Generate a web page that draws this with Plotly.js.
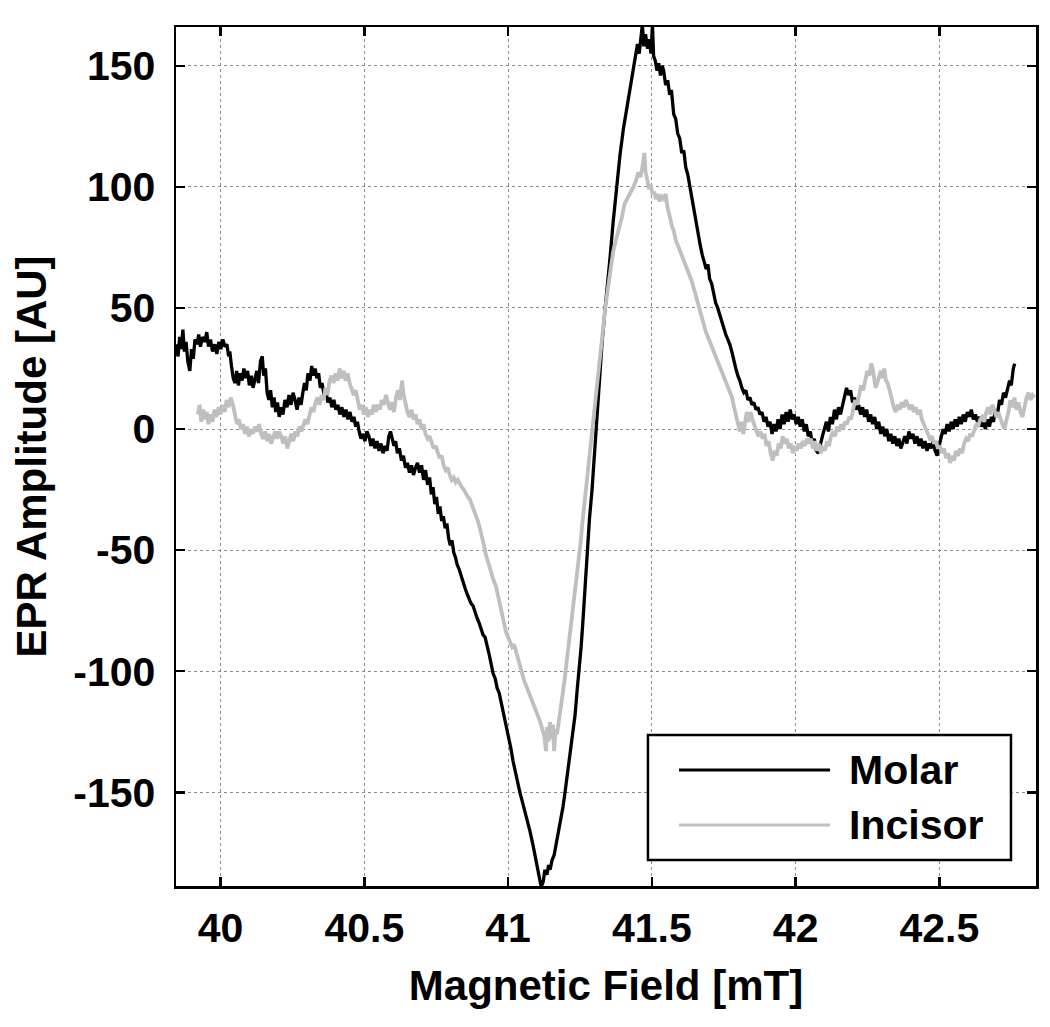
<!DOCTYPE html>
<html>
<head>
<meta charset="utf-8">
<script src="https://cdn.plot.ly/plotly-3.0.1.min.js"></script>
<style>html,body{margin:0;padding:0;background:#fff;}#chart{width:1050px;height:1027px;}</style>
</head>
<body>
<div id="chart"></div>
<script>
// ---- Data ----
const molarField = [39.845,39.852,39.858,39.863,39.869,39.874,39.880,39.886,39.893,39.899,39.905,39.911,39.918,39.924,39.930,39.937,39.945,39.952,39.958,39.965,39.972,39.980,39.987,39.994,40.001,40.008,40.015,40.022,40.028,40.032,40.038,40.044,40.050,40.056,40.062,40.068,40.075,40.081,40.088,40.094,40.100,40.107,40.113,40.119,40.126,40.132,40.139,40.145,40.150,40.156,40.162,40.168,40.174,40.180,40.186,40.192,40.198,40.204,40.210,40.217,40.224,40.231,40.238,40.245,40.252,40.259,40.266,40.273,40.280,40.286,40.292,40.298,40.304,40.311,40.317,40.323,40.329,40.335,40.341,40.347,40.353,40.360,40.366,40.373,40.380,40.387,40.394,40.401,40.408,40.415,40.422,40.429,40.436,40.443,40.450,40.457,40.464,40.470,40.476,40.482,40.488,40.495,40.502,40.509,40.516,40.523,40.530,40.537,40.544,40.551,40.558,40.565,40.572,40.579,40.585,40.591,40.597,40.603,40.609,40.615,40.622,40.629,40.636,40.643,40.650,40.657,40.664,40.671,40.678,40.685,40.692,40.699,40.706,40.713,40.720,40.727,40.733,40.739,40.745,40.751,40.757,40.763,40.769,40.775,40.781,40.787,40.793,40.799,40.805,40.811,40.817,40.823,40.830,40.837,40.844,40.851,40.857,40.864,40.871,40.878,40.885,40.892,40.899,40.906,40.913,40.920,40.927,40.934,40.941,40.948,40.955,40.962,40.969,40.976,40.983,40.990,40.996,41.003,41.010,41.017,41.024,41.031,41.041,41.052,41.066,41.076,41.087,41.098,41.108,41.115,41.122,41.128,41.135,41.141,41.146,41.153,41.160,41.166,41.172,41.180,41.186,41.191,41.198,41.205,41.212,41.219,41.226,41.233,41.240,41.247,41.254,41.261,41.268,41.275,41.283,41.292,41.300,41.309,41.318,41.327,41.336,41.344,41.354,41.365,41.377,41.389,41.401,41.414,41.425,41.436,41.444,41.450,41.456,41.462,41.467,41.472,41.478,41.485,41.491,41.497,41.502,41.506,41.512,41.518,41.524,41.530,41.536,41.541,41.548,41.555,41.562,41.568,41.576,41.583,41.590,41.597,41.604,41.611,41.618,41.625,41.632,41.640,41.647,41.654,41.661,41.668,41.675,41.682,41.689,41.695,41.701,41.708,41.715,41.722,41.729,41.736,41.743,41.750,41.757,41.764,41.771,41.778,41.785,41.792,41.799,41.806,41.813,41.820,41.827,41.834,41.841,41.848,41.855,41.862,41.869,41.876,41.883,41.890,41.897,41.904,41.911,41.918,41.925,41.932,41.939,41.946,41.953,41.960,41.967,41.974,41.981,41.988,41.995,42.002,42.009,42.016,42.023,42.030,42.037,42.044,42.051,42.058,42.065,42.072,42.079,42.086,42.093,42.100,42.107,42.114,42.121,42.128,42.135,42.142,42.149,42.156,42.163,42.170,42.177,42.184,42.191,42.198,42.205,42.212,42.219,42.226,42.233,42.240,42.247,42.254,42.261,42.268,42.275,42.282,42.289,42.296,42.303,42.310,42.317,42.324,42.331,42.338,42.345,42.352,42.359,42.366,42.373,42.380,42.387,42.394,42.401,42.408,42.415,42.422,42.429,42.436,42.443,42.450,42.457,42.464,42.471,42.478,42.485,42.492,42.499,42.506,42.513,42.520,42.527,42.534,42.541,42.548,42.555,42.562,42.569,42.576,42.583,42.590,42.597,42.604,42.611,42.618,42.625,42.632,42.639,42.646,42.653,42.660,42.667,42.674,42.681,42.688,42.695,42.702,42.709,42.716,42.723,42.730,42.737,42.744,42.750,42.757,42.762];
const molarAmp = [35,30,38,33,41,32,36,28,24,33,29,37,35,39,34,38,36,40,34,37,32,35,31,36,33,37,34,35,30,32,26,21,19,24,18,23,20,25,21,24,18,22,17,21,24,19,28,30,22,25,15,12,16,9,13,7,11,5,9,6,12,9,14,10,15,12,8,13,10,15,19,16,23,20,26,22,25,21,23,17,19,14,16,11,13,9,12,8,10,6,9,5,8,4,7,3,5,1,3,-1,-4,-2,-5,-1,-3,-7,-4,-8,-5,-9,-6,-10,-7,-9,-3,-1,-4,-7,-5,-10,-8,-13,-11,-16,-14,-18,-15,-19,-16,-14,-18,-15,-21,-17,-23,-20,-27,-24,-31,-28,-35,-32,-38,-36,-41,-39,-45,-48,-46,-51,-53,-56,-58,-61,-63,-66,-68,-70,-72,-73,-76,-78,-80,-83,-85,-86,-89,-93,-97,-101,-103,-107,-109,-113,-117,-120,-123,-127,-132,-137,-141,-145,-150,-155,-161,-166,-172,-179,-184,-189,-187,-182,-184,-180,-182,-178,-176,-172,-168,-163,-160,-156,-150,-144,-138,-132,-126,-118,-108,-100,-90,-78,-64,-50,-37,-25,-10,3,20,36,48,57,70,85,100,113,124,133,142,150,154,159,155,162,167,158,163,157,161,155,167,154,152,148,151,146,150,148,142,144,138,140,130,128,122,120,114,115,108,105,100,96,90,86,81,76,72,69,66,68,62,60,55,52,50,47,44,42,39,37,35,32,28,25,22,20,17,15,16,12,13,10,11,8,9,6,7,3,5,1,3,-2,2,-1,4,0,6,2,7,3,8,4,6,2,5,1,4,-1,2,-3,-1,-6,-4,-9,-10,-6,-3,0,3,-1,5,2,8,4,9,6,10,13,17,14,16,11,13,8,10,6,9,5,8,3,6,2,5,0,3,-2,1,-3,0,-5,-2,-6,-3,-7,-4,-8,-5,-3,-6,-1,-4,-2,-6,-3,-7,-4,-8,-5,-9,-6,-8,-5,-9,-11,-7,-3,0,-2,2,-1,3,0,4,1,5,2,6,3,7,5,8,4,6,3,5,1,3,0,4,1,5,3,8,6,12,10,15,13,17,20,18,25,27];

const incisorField = [39.921,39.927,39.933,39.940,39.946,39.952,39.958,39.965,39.972,39.979,39.986,39.993,40.000,40.007,40.014,40.021,40.028,40.035,40.043,40.050,40.057,40.064,40.071,40.078,40.085,40.092,40.099,40.106,40.113,40.120,40.127,40.134,40.141,40.148,40.155,40.162,40.169,40.176,40.183,40.190,40.197,40.204,40.211,40.218,40.225,40.232,40.239,40.246,40.253,40.260,40.267,40.274,40.281,40.288,40.295,40.302,40.309,40.316,40.323,40.330,40.337,40.344,40.351,40.358,40.365,40.372,40.379,40.386,40.393,40.400,40.407,40.414,40.421,40.428,40.435,40.442,40.449,40.456,40.463,40.470,40.477,40.484,40.491,40.498,40.505,40.512,40.519,40.526,40.533,40.540,40.547,40.554,40.561,40.568,40.575,40.582,40.589,40.596,40.603,40.610,40.617,40.624,40.631,40.637,40.643,40.650,40.657,40.664,40.671,40.678,40.685,40.692,40.699,40.706,40.713,40.720,40.727,40.734,40.741,40.748,40.755,40.762,40.769,40.776,40.783,40.790,40.797,40.804,40.811,40.818,40.825,40.832,40.839,40.846,40.853,40.860,40.867,40.874,40.881,40.888,40.895,40.902,40.909,40.916,40.923,40.930,40.937,40.944,40.951,40.958,40.965,40.972,40.979,40.986,40.993,41.000,41.007,41.014,41.021,41.028,41.035,41.042,41.049,41.056,41.063,41.070,41.077,41.084,41.091,41.098,41.105,41.112,41.119,41.126,41.132,41.136,41.141,41.146,41.151,41.156,41.160,41.165,41.170,41.176,41.182,41.189,41.196,41.203,41.210,41.217,41.224,41.231,41.238,41.245,41.252,41.259,41.266,41.273,41.280,41.287,41.295,41.303,41.311,41.320,41.329,41.338,41.346,41.355,41.365,41.375,41.385,41.395,41.405,41.414,41.425,41.436,41.446,41.453,41.460,41.467,41.474,41.478,41.484,41.490,41.496,41.502,41.508,41.514,41.520,41.527,41.534,41.541,41.548,41.555,41.562,41.569,41.576,41.583,41.590,41.597,41.604,41.611,41.618,41.625,41.632,41.639,41.646,41.653,41.660,41.667,41.674,41.681,41.688,41.695,41.702,41.709,41.716,41.723,41.730,41.737,41.744,41.751,41.758,41.765,41.772,41.779,41.786,41.793,41.800,41.806,41.812,41.818,41.824,41.830,41.836,41.843,41.850,41.857,41.864,41.871,41.878,41.885,41.892,41.899,41.906,41.913,41.920,41.927,41.934,41.941,41.948,41.955,41.962,41.969,41.976,41.983,41.990,41.997,42.004,42.011,42.018,42.025,42.032,42.039,42.046,42.053,42.060,42.067,42.074,42.081,42.088,42.095,42.102,42.109,42.116,42.123,42.130,42.137,42.144,42.151,42.158,42.165,42.172,42.179,42.186,42.193,42.200,42.207,42.214,42.221,42.228,42.235,42.242,42.249,42.256,42.263,42.268,42.273,42.278,42.284,42.290,42.296,42.302,42.308,42.314,42.320,42.327,42.334,42.341,42.348,42.355,42.362,42.369,42.376,42.383,42.390,42.397,42.404,42.411,42.418,42.425,42.432,42.439,42.446,42.453,42.460,42.467,42.474,42.481,42.488,42.495,42.502,42.509,42.516,42.523,42.530,42.537,42.544,42.551,42.558,42.565,42.572,42.579,42.586,42.593,42.600,42.607,42.614,42.621,42.628,42.635,42.642,42.649,42.656,42.663,42.670,42.677,42.684,42.691,42.698,42.705,42.712,42.719,42.726,42.733,42.740,42.747,42.754,42.761,42.768,42.775,42.782,42.789,42.796,42.803,42.810,42.817,42.824,42.831];
const incisorAmp = [6,10,3,8,4,7,2,6,3,8,5,9,6,10,7,12,9,13,10,6,2,4,0,2,-2,1,-3,0,-2,1,-1,2,-2,-4,-1,-5,-2,-6,-3,-1,-4,-1,-3,-6,-3,-8,-5,-2,-5,-1,-3,1,-1,2,4,2,6,9,7,11,13,10,14,12,17,14,20,22,19,23,20,25,21,24,20,23,19,17,14,16,11,8,10,6,9,5,8,6,10,7,10,8,12,10,14,11,8,11,7,13,16,12,20,14,10,7,5,8,4,6,2,4,0,2,-2,-4,-3,-6,-8,-7,-10,-12,-11,-15,-17,-16,-19,-21,-20,-22,-21,-23,-24,-25,-27,-28,-29,-31,-33,-35,-38,-41,-44,-48,-52,-55,-58,-61,-63,-65,-69,-73,-77,-80,-84,-86,-88,-90,-89,-92,-96,-99,-102,-104,-106,-108,-110,-112,-114,-116,-118,-121,-124,-127,-133,-123,-129,-121,-128,-122,-133,-124,-126,-120,-116,-110,-104,-97,-90,-83,-77,-70,-62,-56,-47,-38,-30,-21,-14,-6,4,13,22,31,42,50,57,65,73,78,82,87,93,95,98,100,103,106,104,108,114,106,103,99,101,97,98,95,97,94,96,95,97,91,88,84,82,78,76,74,71,69,67,65,63,61,58,55,52,49,46,42,40,38,36,34,31,29,27,26,24,22,20,18,15,13,9,6,2,-1,3,-2,4,7,3,7,4,1,-1,-3,-1,-4,-2,-7,-5,-10,-13,-9,-11,-6,-8,-3,-6,-4,-8,-6,-10,-7,-9,-6,-8,-5,-7,-4,-6,-4,-8,-5,-9,-6,-10,-7,-9,-5,-7,-3,-1,-3,1,-1,2,0,3,2,5,4,8,12,10,15,18,16,21,24,22,27,25,20,17,19,22,24,21,25,20,19,16,12,9,7,10,8,11,9,12,10,8,10,7,9,6,8,4,2,0,-2,-4,-3,-6,-5,-8,-7,-10,-8,-12,-10,-14,-11,-13,-9,-11,-8,-10,-6,-4,-5,-2,-3,0,2,1,4,5,3,7,9,6,10,8,5,7,4,2,0,3,7,12,9,13,8,11,7,5,9,13,15,12,14,13];

const seriesNames = ['Molar', 'Incisor'];
const xTickVals = [40, 40.5, 41, 41.5, 42, 42.5];
const xTickText = ['40', '40.5', '41', '41.5', '42', '42.5'];
const yTickVals = [-150, -100, -50, 0, 50, 100, 150];
const yTickText = ['-150', '-100', '-50', '0', '50', '100', '150'];

// ---- Styles ----
const FONT = 'Liberation Sans, Arial, Helvetica, sans-serif';
const molarColor = '#000000';
const incisorColor = '#bfbfbf';

const traces = [
  {x: molarField, y: molarAmp, type: 'scatter', mode: 'lines', name: seriesNames[0],
   line: {color: molarColor, width: 3.3}, showlegend: false},
  {x: incisorField, y: incisorAmp, type: 'scatter', mode: 'lines', name: seriesNames[1],
   line: {color: incisorColor, width: 3.8}, showlegend: false}
];

const axisCommon = {
  showline: true, linecolor: '#000', linewidth: 2.5, mirror: 'ticks',
  ticks: 'inside', ticklen: 9, tickwidth: 2.5, tickcolor: '#000',
  showgrid: true, gridcolor: '#8c8c8c', gridwidth: 1, griddash: 'dot',
  zeroline: false,
  tickfont: {family: FONT, size: 41, color: '#000', weight: 'bold'}
};

const layout = {
  width: 1050, height: 1027,
  margin: {l: 176, r: 14, t: 27, b: 141},
  paper_bgcolor: '#fff', plot_bgcolor: '#fff',
  font: {family: FONT, color: '#000', weight: 'bold'},
  xaxis: Object.assign({}, axisCommon, {
    range: [39.845, 42.836], tickmode: 'array', tickvals: xTickVals, ticktext: xTickText,
    ticklabelstandoff: 4,
    title: {text: 'Magnetic Field [mT]', font: {family: FONT, size: 42, color: '#000', weight: 'bold'}, standoff: 21}
  }),
  yaxis: Object.assign({}, axisCommon, {
    range: [-188.7, 166], tickmode: 'array', tickvals: yTickVals, ticktext: yTickText,
    ticklabelstandoff: 10,
    title: {text: 'EPR Amplitude [AU]', font: {family: FONT, size: 42, color: '#000', weight: 'bold'}, standoff: 14}
  }),
  showlegend: false,
  shapes: [
    {type: 'rect', xref: 'paper', yref: 'paper', x0: 0.5488, x1: 0.9709, y0: 0.0303, y1: 0.1758,
     line: {color: '#000', width: 2.5}, fillcolor: '#fff', layer: 'above'},
    {type: 'line', xref: 'paper', yref: 'paper', x0: 0.5849, x1: 0.7605, y0: 0.135, y1: 0.135,
     line: {color: molarColor, width: 3}, layer: 'above'},
    {type: 'line', xref: 'paper', yref: 'paper', x0: 0.5849, x1: 0.7605, y0: 0.071, y1: 0.071,
     line: {color: incisorColor, width: 3}, layer: 'above'}
  ],
  annotations: [
    {xref: 'paper', yref: 'paper', x: 0.7802, y: 0.135, xanchor: 'left', yanchor: 'middle',
     text: seriesNames[0], showarrow: false, font: {family: FONT, size: 41, color: '#000', weight: 'bold'}},
    {xref: 'paper', yref: 'paper', x: 0.7802, y: 0.071, xanchor: 'left', yanchor: 'middle',
     text: seriesNames[1], showarrow: false, font: {family: FONT, size: 41, color: '#000', weight: 'bold'}}
  ]
};

Plotly.newPlot('chart', traces, layout, {displayModeBar: false, staticPlot: true});
</script>
</body>
</html>
